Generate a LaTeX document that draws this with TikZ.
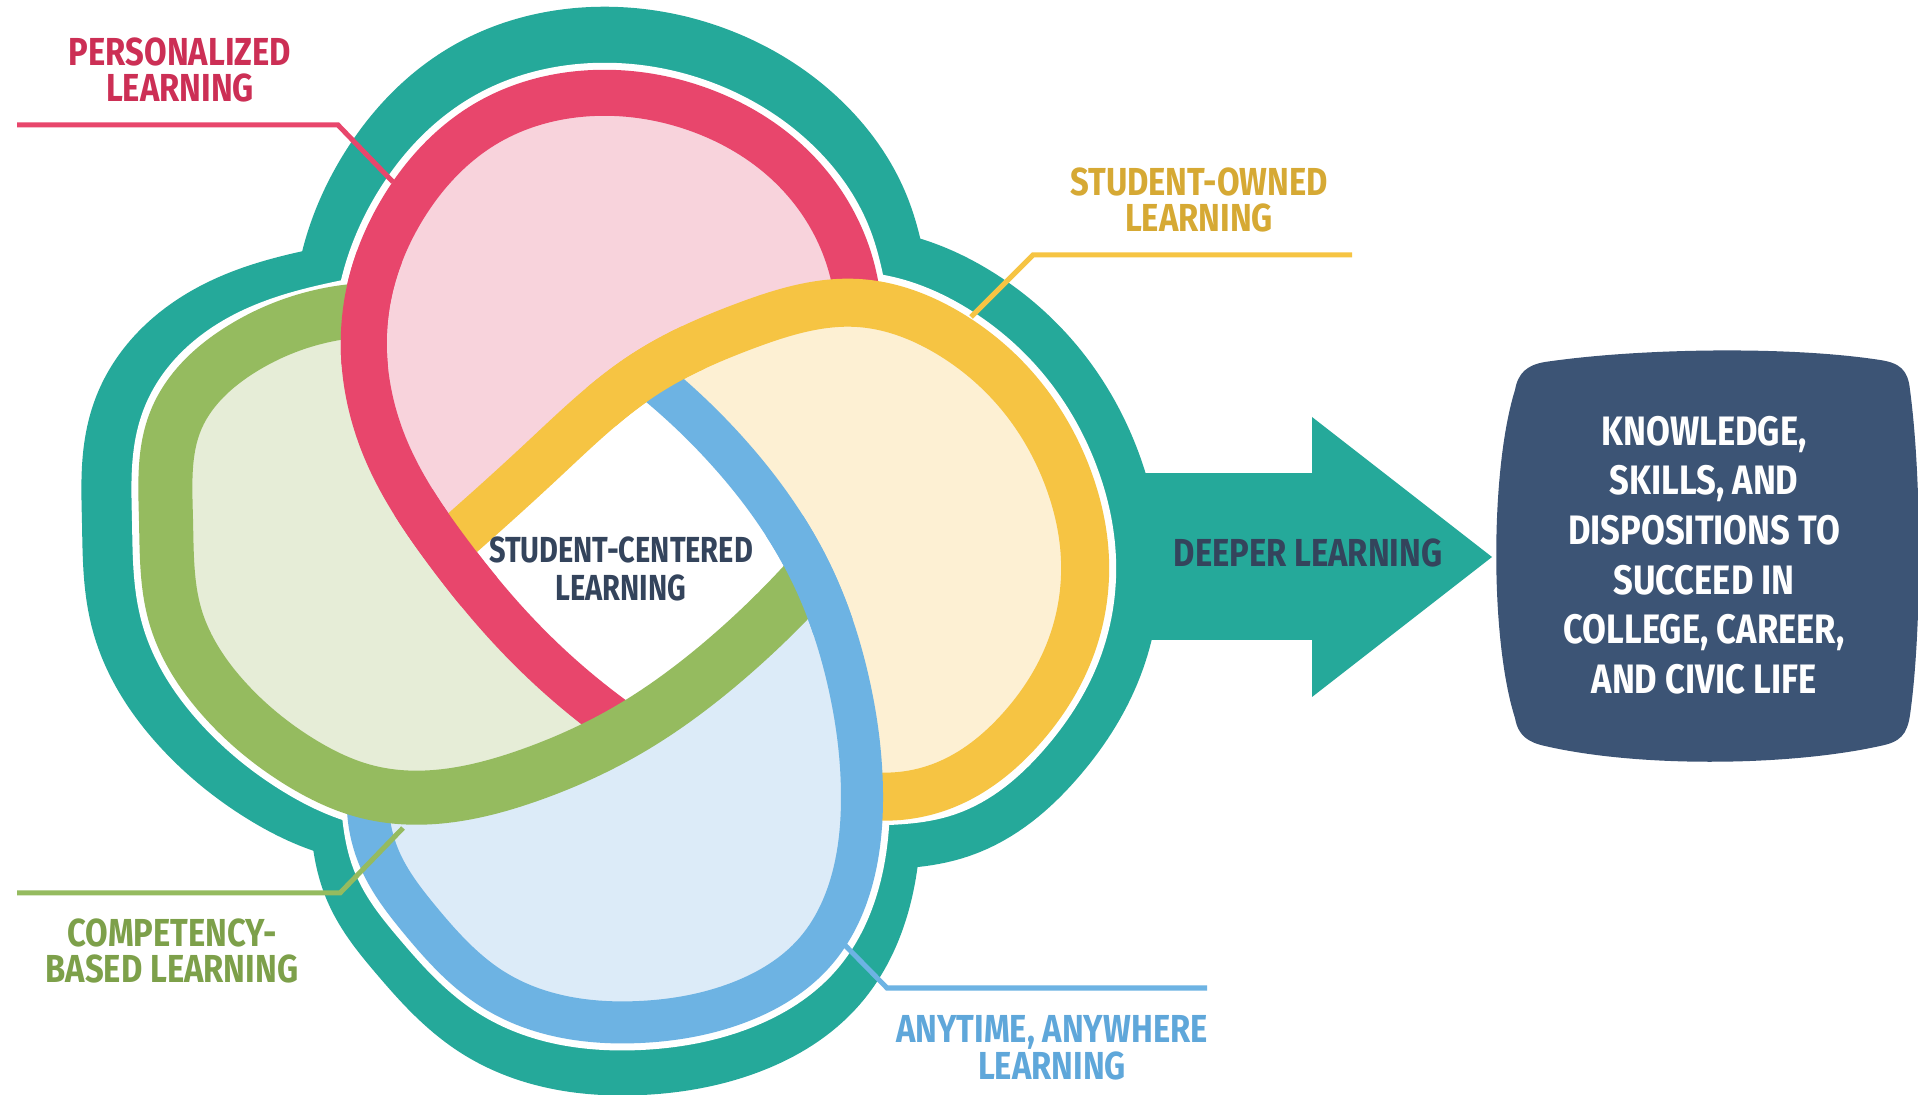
\documentclass[tikz,border=0pt]{standalone}
\usepackage{fontspec}
\setmainfont{Fira Sans}
\newfontfamily\condfont{Fira Sans}[FakeStretch=0.84]
\newfontfamily\condfontc{Fira Sans}[FakeStretch=0.80]
\usetikzlibrary{hobby}
\definecolor{teal1}{HTML}{25A99A}
\definecolor{redb}{HTML}{E8466C}
\definecolor{pinkf}{HTML}{F8D3DC}
\definecolor{yelb}{HTML}{F6C443}
\definecolor{creamf}{HTML}{FDF0D3}
\definecolor{blueb}{HTML}{6DB3E3}
\definecolor{bluef}{HTML}{DCEBF8}
\definecolor{greenb}{HTML}{95BB5F}
\definecolor{greenf}{HTML}{E6EDD7}
\definecolor{navy}{HTML}{3C5475}
\definecolor{navytxt}{HTML}{34445C}
\definecolor{redtxt}{HTML}{CC2F55}
\definecolor{yeltxt}{HTML}{D6A934}
\definecolor{greentxt}{HTML}{7DA04A}
\definecolor{bluetxt}{HTML}{5FA7DA}
\begin{document}
\begin{tikzpicture}[x=0.01cm,y=-0.01cm,
  redband/.style={line width=0.46cm, redb},
  yelband/.style={line width=0.48cm, yelb},
  bluband/.style={line width=0.42cm, blueb},
  grnband/.style={line width=0.54cm, greenb},
  lab/.style={font=\condfont\bfseries\fontsize{11.1}{10.5}\selectfont, align=center, inner sep=0pt},
  labc/.style={font=\condfontc\bfseries\fontsize{10.3}{10.6}\selectfont, align=center, inner sep=0pt},
  boxtxt/.style={font=\condfont\bfseries\fontsize{11.7}{14.1}\selectfont, align=center, inner sep=0pt, text=white},
  leader/.style={line width=0.05cm}]
\useasboundingbox (0,0) rectangle (1918,1095);
\fill[white] (0,0) rectangle (1918,1095);
% crossing points
\coordinate (P1) at (445,548);
\coordinate (P2) at (858,303);
\coordinate (P3) at (645,374);
\coordinate (P4) at (862,795);
\coordinate (P5) at (812,575);
\coordinate (P6) at (368,792);
\coordinate (P7) at (628,730);
\coordinate (P8) at (366,310);
% red
\coordinate (r1) at (842,240);
\coordinate (r2) at (790,165);
\coordinate (r3) at (700,110);
\coordinate (r4) at (594,93);
\coordinate (r5) at (487,123);
\coordinate (r6) at (405,205);
\coordinate (r7) at (386,450);
\coordinate (r9) at (522,640);
% yellow
\coordinate (y1) at (545,458);
\coordinate (y3) at (745,326);
\coordinate (y5) at (950,334);
\coordinate (y6) at (1018,392);
\coordinate (y7) at (1068,478);
\coordinate (y8) at (1085,560);
\coordinate (y9) at (1070,650);
\coordinate (y10) at (1020,730);
\coordinate (y11) at (945,785);
% blue
\coordinate (b1) at (728,452);
\coordinate (b3) at (848,680);
\coordinate (b5) at (852,880);
\coordinate (b6) at (815,952);
\coordinate (b7) at (740,1002);
\coordinate (b8) at (640,1022);
\coordinate (b9) at (494,990);
\coordinate (b10) at (420,920);
\coordinate (b11) at (380,860);
% green
\coordinate (g1) at (725,660);
\coordinate (g3) at (530,775);
\coordinate (g5) at (300,762);
\coordinate (g6) at (225,700);
\coordinate (g7) at (175,615);
\coordinate (g8) at (166,520);
\coordinate (g9) at (176,420);
\coordinate (g10) at (240,350);

% arrow
\fill[teal1] (1100,473) rectangle (1314,640);
\fill[teal1] (1312,417) -- (1492,557) -- (1312,697) -- cycle;

% teal cloud (thickness varies: shifted outlines)
\filldraw[teal1, line width=1.42cm, transform canvas={yshift=0.15cm}] plot[closed hobby] coordinates {(P2) (r1) (r2) (r3) (r4) (r5) (r6) (P8) (r7) (P1) (r9) (P7)};
\filldraw[teal1, line width=1.50cm] plot[closed hobby] coordinates {(P1) (y1) (P3) (y3) (P2) (y5) (y6) (y7) (y8) (y9) (y10) (y11) (P4)};
\filldraw[teal1, line width=1.18cm, transform canvas={yshift=-0.14cm}] plot[closed hobby] coordinates {(P3) (b1) (P5) (b3) (P4) (b5) (b6) (b7) (b8) (b9) (b10) (b11) (P6)};
\filldraw[teal1, line width=1.34cm, transform canvas={xshift=-0.17cm}] plot[closed hobby] coordinates {(P5) (g1) (P7) (g3) (P6) (g5) (g6) (g7) (g8) (g9) (g10) (P8)};
% white gap
\filldraw[white, line width=0.60cm] plot[closed hobby] coordinates {(P2) (r1) (r2) (r3) (r4) (r5) (r6) (P8) (r7) (P1) (r9) (P7)};
\filldraw[white, line width=0.62cm] plot[closed hobby] coordinates {(P1) (y1) (P3) (y3) (P2) (y5) (y6) (y7) (y8) (y9) (y10) (y11) (P4)};
\filldraw[white, line width=0.56cm] plot[closed hobby] coordinates {(P3) (b1) (P5) (b3) (P4) (b5) (b6) (b7) (b8) (b9) (b10) (b11) (P6)};
\filldraw[white, line width=0.68cm] plot[closed hobby] coordinates {(P5) (g1) (P7) (g3) (P6) (g5) (g6) (g7) (g8) (g9) (g10) (P8)};

% light fills
\fill[pinkf] plot[hobby] coordinates {(P2) (r1) (r2) (r3) (r4) (r5) (r6) (P8) (r7) (P1)} -- plot[hobby] coordinates {(P1) (y1) (P3) (y3) (P2)} -- cycle;
\fill[creamf] plot[hobby] coordinates {(P3) (y3) (P2) (y5) (y6) (y7) (y8) (y9) (y10) (y11) (P4)} -- plot[hobby] coordinates {(P4) (b3) (P5) (b1) (P3)} -- cycle;
\fill[bluef] plot[hobby] coordinates {(P5) (b3) (P4) (b5) (b6) (b7) (b8) (b9) (b10) (b11) (P6)} -- plot[hobby] coordinates {(P6) (g3) (P7) (g1) (P5)} -- cycle;
\fill[greenf] plot[hobby] coordinates {(P7) (g3) (P6) (g5) (g6) (g7) (g8) (g9) (g10) (P8)} -- plot[hobby] coordinates {(P8) (r7) (P1) (r9) (P7)} -- cycle;

% bands
\draw[redband] plot[hobby] coordinates {(P2) (r1) (r2) (r3) (r4) (r5) (r6) (P8) (r7) (P1) (r9) (P7)};
\draw[yelband] plot[hobby] coordinates {(P1) (y1) (P3) (y3) (P2) (y5) (y6) (y7) (y8) (y9) (y10) (y11) (P4)};
\draw[bluband] plot[hobby] coordinates {(P3) (b1) (P5) (b3) (P4) (b5) (b6) (b7) (b8) (b9) (b10) (b11) (P6)};
\draw[grnband] plot[hobby] coordinates {(P5) (g1) (P7) (g3) (P6) (g5) (g6) (g7) (g8) (g9) (g10) (P8)};
% weaving fixes
\begin{scope}
\clip (P1) circle[radius=60];
\draw[redband] plot[hobby] coordinates {(P2) (r1) (r2) (r3) (r4) (r5) (r6) (P8) (r7) (P1) (r9) (P7)};
\end{scope}
\begin{scope}
\clip (P8) circle[radius=60];
\draw[redband] plot[hobby] coordinates {(P2) (r1) (r2) (r3) (r4) (r5) (r6) (P8) (r7) (P1) (r9) (P7)};
\end{scope}
\begin{scope}
\clip (P3) circle[radius=60];
\draw[yelband] plot[hobby] coordinates {(P1) (y1) (P3) (y3) (P2) (y5) (y6) (y7) (y8) (y9) (y10) (y11) (P4)};
\end{scope}
\begin{scope}
\clip (P5) circle[radius=60];
\draw[bluband] plot[hobby] coordinates {(P3) (b1) (P5) (b3) (P4) (b5) (b6) (b7) (b8) (b9) (b10) (b11) (P6)};
\end{scope}

% leader lines
\coordinate (rl0) at (17,125); \coordinate (rl1) at (338,125); \coordinate (rl2) at (393,182);
\coordinate (yl0) at (1352,255); \coordinate (yl1) at (1033,255); \coordinate (yl2) at (971,317);
\coordinate (gl0) at (17,893); \coordinate (gl1) at (340,893); \coordinate (gl2) at (403,828);
\coordinate (bl0) at (1207,988); \coordinate (bl1) at (887,988); \coordinate (bl2) at (832,932);
\draw[leader, redb] (rl0) -- (rl1) -- (rl2);
\draw[leader, yelb] (yl0) -- (yl1) -- (yl2);
\draw[leader, greenb] (gl0) -- (gl1) -- (gl2);
\draw[leader, blueb] (bl0) -- (bl1) -- (bl2);

% box
\fill[navy] (1545,362) .. controls (1640,348) and (1790,346) .. (1880,360)
 .. controls (1900,363) and (1908,370) .. (1910,390)
 .. controls (1922,480) and (1922,630) .. (1910,715)
 .. controls (1907,735) and (1900,742) .. (1880,746)
 .. controls (1790,766) and (1640,768) .. (1545,746)
 .. controls (1527,742) and (1518,735) .. (1515,718)
 .. controls (1490,640) and (1490,470) .. (1515,390)
 .. controls (1518,373) and (1527,365) .. (1545,362) -- cycle;

% labels
\node[lab, text=redtxt] (lpers) at (180,70) {PERSONALIZED\\LEARNING};
\node[lab, text=yeltxt] (lown) at (1199,200) {STUDENT-OWNED\\LEARNING};
\node[labc, text=navytxt] (lcent) at (621,569) {STUDENT-CENTERED\\LEARNING};
\node[lab, text=navytxt] (ldeep) at (1308,553) {DEEPER LEARNING};
\node[lab, text=greentxt] (lcomp) at (172,951) {COMPETENCY-\\BASED LEARNING};
\node[lab, text=bluetxt] (lany) at (1052,1048) {ANYTIME, ANYWHERE\\LEARNING};
\node[boxtxt] (kbox) at (1704,555) {KNOWLEDGE,\\SKILLS, AND\\DISPOSITIONS TO\\SUCCEED IN\\COLLEGE, CAREER,\\AND CIVIC LIFE};
\end{tikzpicture}
\end{document}
